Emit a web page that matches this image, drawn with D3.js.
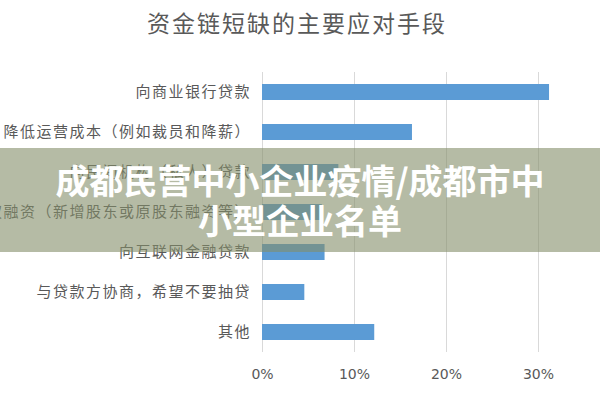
<!DOCTYPE html>
<html lang="zh">
<head>
  <meta charset="UTF-8">
  <title>资金链短缺的主要应对手段</title>
  <script src="https://d3js.org/d3.v7.min.js"></script>
  <style>
    body {
      margin: 0;
      background: #fff;
      font-family: "Noto Sans CJK SC", "Noto Sans", sans-serif;
    }
    .label {
      font-size: 15px;
      letter-spacing: 1.5px;
      fill: #595959;
    }
    .tick text {
      font-size: 14px;
      fill: #595959;
      font-family: "DejaVu Sans", sans-serif;
    }
    .tick line {
      stroke: #d9d9d9;
    }
  </style>
</head>
<body>
  <svg id="chart" width="600" height="400"></svg>
  <script>
    const title = "资金链短缺的主要应对手段";
    const categories = [
      "向商业银行贷款",
      "降低运营成本（例如裁员和降薪）",
      "向民间机构（私人）贷款",
      "股权融资（新增股东或原股东融资等）",
      "向互联网金融贷款",
      "与贷款方协商，希望不要抽贷",
      "其他"
    ];
    const values = [31.2, 16.3, 8.3, 6.5, 6.8, 4.6, 12.2];
    const tickValues = [0, 10, 20, 30];
    const tickLabels = ["0%", "10%", "20%", "30%"];
    const overlayLines = ["成都民营中小企业疫情/成都市中", "小型企业名单"];

    const svg = d3.select("#chart");

    const x = d3.scaleLinear()
      .domain([0, 30])
      .range([262, 538]);

    const y = d3.scaleBand()
      .domain(categories)
      .range([72, 352])
      .paddingInner(0.6)
      .paddingOuter(0.3);

    // title
    svg.append("text")
      .attr("x", 297)
      .attr("y", 32)
      .attr("text-anchor", "middle")
      .attr("font-size", "23px")
      .attr("letter-spacing", "2px")
      .attr("fill", "#595959")
      .text(title);

    // gridlines + tick labels
    const xAxis = d3.axisBottom(x)
      .tickValues(tickValues)
      .tickFormat((d, i) => tickLabels[i])
      .tickSize(-280)
      .tickPadding(17);

    svg.append("g")
      .attr("transform", "translate(0,352)")
      .call(xAxis)
      .call(g => g.select(".domain").remove());

    // bars
    svg.selectAll(".bar")
      .data(values)
      .enter()
      .append("rect")
      .attr("class", "bar")
      .attr("x", x(0))
      .attr("y", (d, i) => y(categories[i]))
      .attr("width", d => x(d) - x(0))
      .attr("height", y.bandwidth())
      .attr("fill", "#5b9bd5");

    // category labels
    svg.selectAll(".label")
      .data(categories)
      .enter()
      .append("text")
      .attr("class", "label")
      .attr("x", x(0) - 11)
      .attr("y", d => y(d) + y.bandwidth() / 2)
      .attr("dy", "0.36em")
      .attr("text-anchor", "end")
      .text(d => d);

    // overlay band with watermark-like headline
    svg.append("rect")
      .attr("x", 0)
      .attr("y", 148)
      .attr("width", 600)
      .attr("height", 104)
      .attr("fill", "rgba(131,142,105,0.6)");

    svg.selectAll(".overlay")
      .data(overlayLines)
      .enter()
      .append("text")
      .attr("class", "overlay")
      .attr("x", 300)
      .attr("y", (d, i) => 194 + i * 40)
      .attr("text-anchor", "middle")
      .attr("font-size", "34px")
      .attr("font-weight", "bold")
      .attr("fill", "#fff")
      .text(d => d);
  </script>
</body>
</html>
